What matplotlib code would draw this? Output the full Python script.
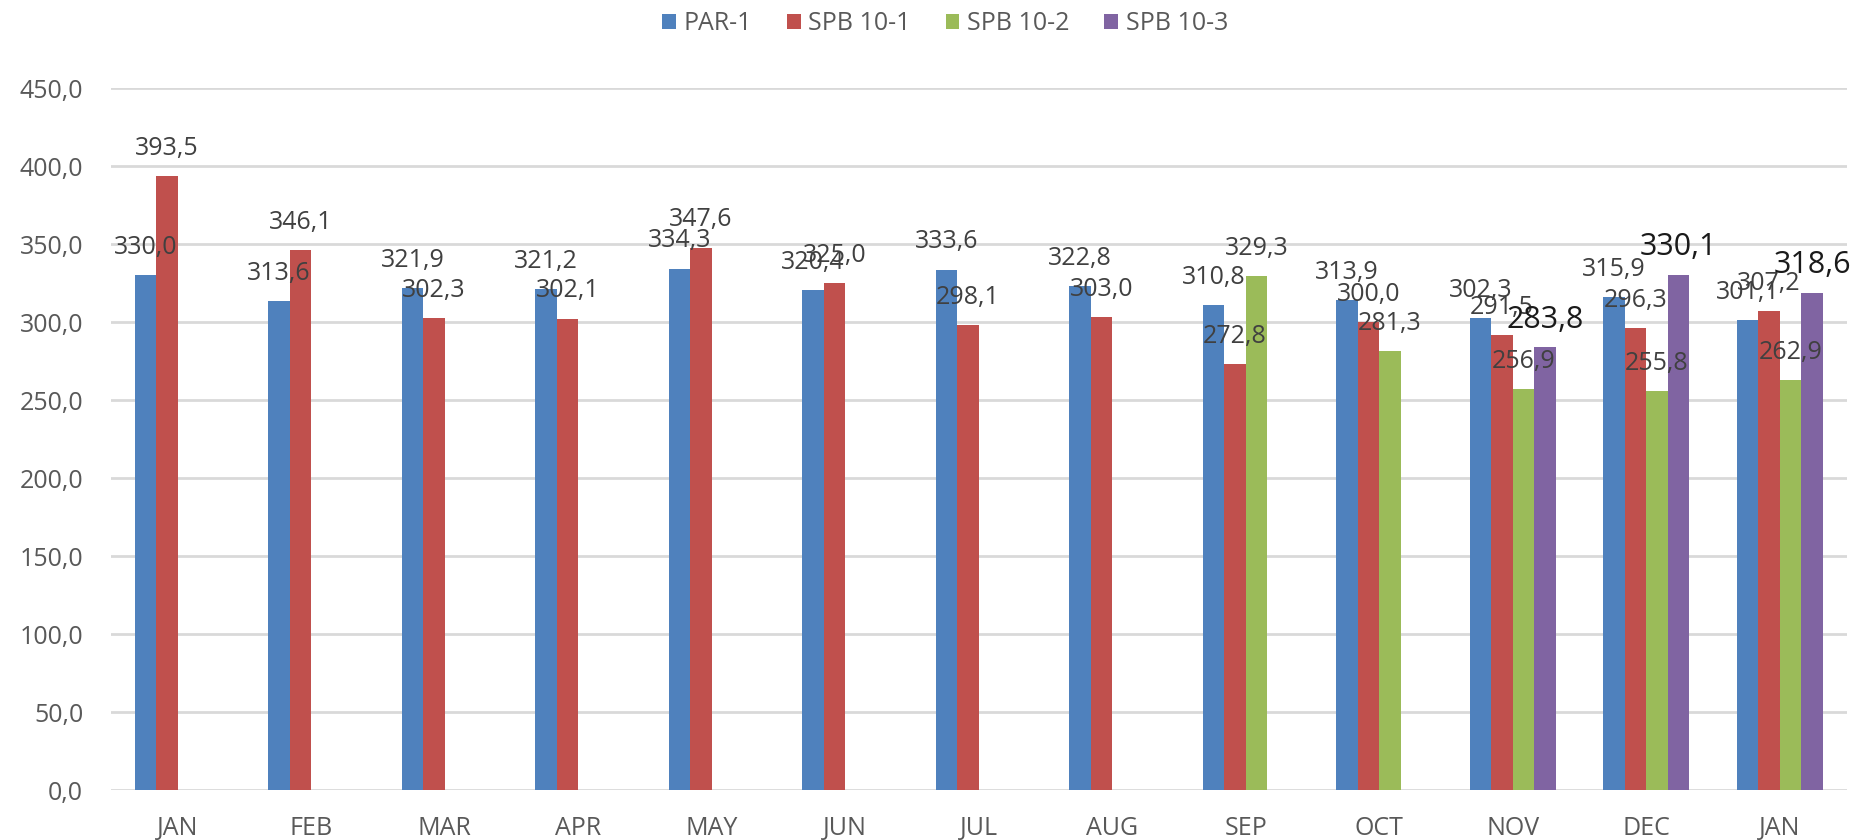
import matplotlib.pyplot as plt
import numpy as np

# ==========================================================
# Data
# ==========================================================

months = ["JAN", "FEB", "MAR", "APR", "MAY", "JUN", "JUL",
          "AUG", "SEP", "OCT", "NOV", "DEC", "JAN"]

series_names = ["PAR-1", "SPB 10-1", "SPB 10-2", "SPB 10-3"]

par_1 = [330.0, 313.6, 321.9, 321.2, 334.3, 320.4, 333.6,
         322.8, 310.8, 313.9, 302.3, 315.9, 301.1]
spb_10_1 = [393.5, 346.1, 302.3, 302.1, 347.6, 325.0, 298.1,
            303.0, 272.8, 300.0, 291.5, 296.3, 307.2]
spb_10_2 = [None, None, None, None, None, None, None,
            None, 329.3, 281.3, 256.9, 255.8, 262.9]
spb_10_3 = [None, None, None, None, None, None, None,
            None, None, None, 283.8, 330.1, 318.6]

y_ticks = [0, 50, 100, 150, 200, 250, 300, 350, 400, 450]

# ==========================================================
# Style
# ==========================================================

plt.rcParams["font.family"] = ["Open Sans", "DejaVu Sans"]

colors = ["#4F81BD", "#C0504D", "#9BBB59", "#8064A2"]
label_sizes = [18, 18, 18, 22]
label_colors = ["#404040", "#404040", "#404040", "#1a1a1a"]
tick_color = "#595959"
grid_color = "#D9D9D9"

bar_w = 0.161

# ==========================================================
# Figure
# ==========================================================

fig = plt.figure(figsize=(18.53, 8.4), dpi=100)
ax = fig.add_axes([0.0599, 0.0595, 0.9366, 0.8357])

x = np.arange(len(months))
all_series = [par_1, spb_10_1, spb_10_2, spb_10_3]

for i, (name, values) in enumerate(zip(series_names, all_series)):
    offset = (i - 1.5) * bar_w
    xs = [xi + offset for xi, v in zip(x, values) if v is not None]
    vs = [v for v in values if v is not None]
    ax.bar(xs, vs, width=bar_w, color=colors[i], label=name, zorder=3)

    for xi, v in zip(xs, vs):
        ax.annotate(
            f"{v:.1f}".replace(".", ","),
            (xi, v),
            xytext=(0, 20),
            textcoords="offset points",
            ha="center",
            va="center",
            fontsize=label_sizes[i],
            color=label_colors[i],
            zorder=4,
        )

# ==========================================================
# Axes
# ==========================================================

ax.set_xlim(-0.5, len(months) - 0.5)
ax.set_ylim(0, 450)
ax.set_yticks(y_ticks)
ax.set_yticklabels([f"{t:.1f}".replace(".", ",") for t in y_ticks])
ax.set_xticks(x)
ax.set_xticklabels(months)

ax.tick_params(axis="y", length=0, pad=20, labelsize=18, labelcolor=tick_color)
ax.tick_params(axis="x", length=0, pad=19, labelsize=18, labelcolor=tick_color)

ax.yaxis.grid(True, color=grid_color, linewidth=2, zorder=0)
ax.set_axisbelow(True)

for spine in ax.spines.values():
    spine.set_visible(False)

fig.legend(
    loc="center",
    bbox_to_anchor=(0.51, 0.972),
    ncol=4,
    frameon=False,
    fontsize=18,
    handlelength=0.55,
    handleheight=0.55,
    handletextpad=0.3,
    columnspacing=1.4,
    labelcolor=tick_color,
)

fig.savefig("out.png", dpi=100)
plt.close(fig)
